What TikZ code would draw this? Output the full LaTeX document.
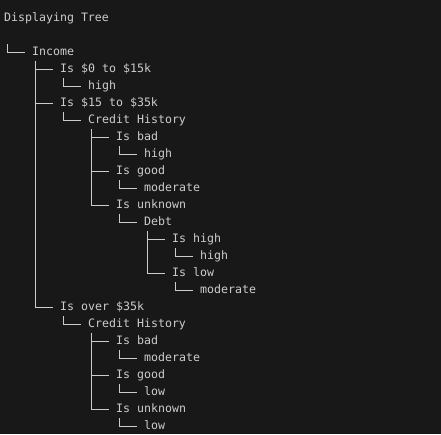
\documentclass[tikz,border=0pt]{standalone}
\usepackage{fontspec}
\setmonofont{DejaVu Sans Mono}
\usepackage{tikz}
\definecolor{termbg}{HTML}{181818}
\definecolor{termfg}{HTML}{CCCCCC}

\begin{document}
\begin{tikzpicture}[x=1pt, y=-1pt,
    entry/.style={anchor=base west, inner sep=0pt, text height=8pt, text depth=1pt,
      text=termfg, font=\ttfamily\fontsize{11.6}{14}\selectfont},
    branch/.style={draw=termfg, line width=0.8pt}]
  % terminal window: 7pt per column, 17pt per row
  \fill[termbg] (0,0) rectangle (441,434);

  % tree entries: name/column/row/text
  \foreach \name/\col/\row/\txt in {title/0/0/Displaying Tree, inc/4/2/Income,
      lowinc/8/3/Is \$0 to \$15k, lowincv/12/4/high,
      midinc/8/5/Is \$15 to \$35k, midcred/12/6/Credit History,
      midbad/16/7/Is bad, midbadv/20/8/high,
      midgood/16/9/Is good, midgoodv/20/10/moderate,
      midunk/16/11/Is unknown, debt/20/12/Debt,
      debthigh/24/13/Is high, debthighv/28/14/high,
      debtlow/24/15/Is low, debtlowv/28/16/moderate,
      hiinc/8/17/Is over \$35k, hicred/12/18/Credit History,
      hibad/16/19/Is bad, hibadv/20/20/moderate,
      higood/16/21/Is good, higoodv/20/22/low,
      hiunk/16/23/Is unknown, hiunkv/20/24/low} {
    \node[entry] (\name) at ({4+7*\col}, {21.7+17*\row}) {\txt};
  }

  % root branch
  \coordinate (root) at (7.5, 43.7);
  \draw[branch] (root) |- ([xshift=-7pt]inc.west);

  % branches: parent/child
  \foreach \p/\c in {inc/lowinc, inc/midinc, inc/hiinc, lowinc/lowincv,
      midinc/midcred, midcred/midbad, midcred/midgood, midcred/midunk,
      midbad/midbadv, midgood/midgoodv, midunk/debt,
      debt/debthigh, debt/debtlow, debthigh/debthighv, debtlow/debtlowv,
      hiinc/hicred, hicred/hibad, hicred/higood, hicred/hiunk,
      hibad/hibadv, higood/higoodv, hiunk/hiunkv} {
    \draw[branch] ([xshift=3.5pt, yshift=-4pt]\p.south west) |- ([xshift=-7pt]\c.west);
  }
\end{tikzpicture}
\end{document}
